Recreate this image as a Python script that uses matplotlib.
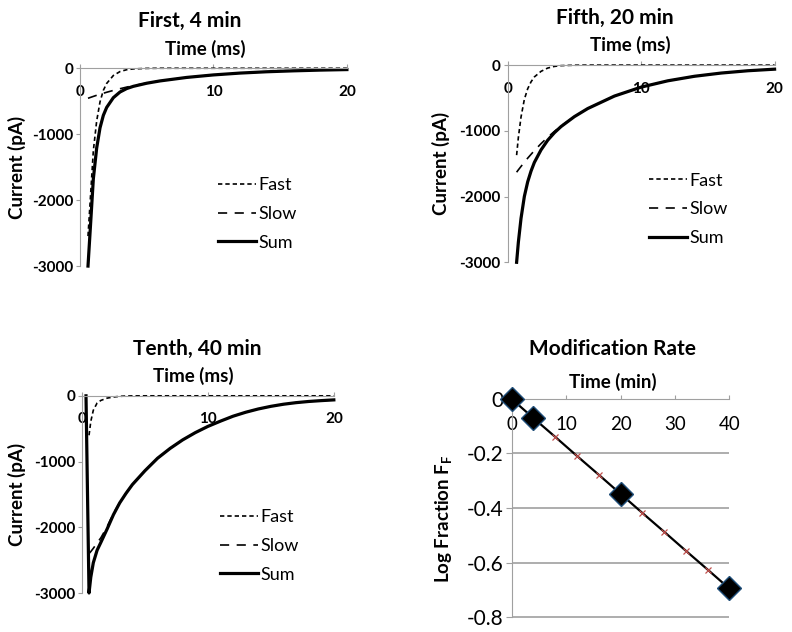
import matplotlib.pyplot as plt

plt.rcParams['font.family'] = ['Lato', 'DejaVu Sans']
plt.rcParams['axes.unicode_minus'] = False

# First, 4 min  (time in ms, current in pA)
t1 = [0.6, 0.8, 1.0, 1.25, 1.5, 1.75, 2.0, 2.5, 3.0, 3.5, 4, 5, 6, 8, 10, 12, 14, 16, 18, 20]
fast1 = [-2545, -1900, -1250, -800, -510, -335, -230, -110, -50, -22, -10, -2, 0, 0, 0, 0, 0, 0, 0, 0]
slow1 = [-455, -441, -427, -410, -394, -379, -364, -336, -310, -286, -264, -225, -192, -139, -101, -73, -53, -39, -28, -20]
sum1 = [-3000, -2341, -1677, -1210, -904, -714, -594, -446, -360, -308, -274, -227, -192, -139, -101, -73, -53, -39, -28, -20]

# Fifth, 20 min
t2 = [0.67, 0.8, 1.0, 1.25, 1.5, 1.75, 2.0, 2.5, 3.0, 3.5, 4, 5, 6, 8, 10, 12, 14, 16, 18, 20]
fast2 = [-1370, -1103, -790, -521, -360, -255, -180, -95, -45, -20, -8, -2, 0, 0, 0, 0, 0, 0, 0, 0]
slow2 = [-1630, -1594, -1542, -1477, -1416, -1358, -1301, -1195, -1098, -1009, -927, -782, -661, -471, -335, -239, -170, -121, -86, -62]
sum2 = [-3000, -2697, -2332, -1998, -1776, -1613, -1481, -1290, -1143, -1029, -935, -784, -661, -471, -335, -239, -170, -121, -86, -62]

# Tenth, 40 min
t3 = [0.56, 0.7, 0.9, 1.2, 1.5, 2.0, 2.5, 3.0, 3.5, 4, 5, 6, 7, 8, 9, 10, 11, 12, 13, 14, 15, 16, 17, 18, 19, 20]
fast3 = [-600, -390, -220, -110, -70, -35, -18, -8, -3, -1, 0, 0, 0, 0, 0, 0, 0, 0, 0, 0, 0, 0, 0, 0, 0, 0]
slow3 = [-2400, -2370, -2320, -2240, -2160, -1990, -1790, -1620, -1480, -1350, -1140, -950, -800, -670, -560, -465, -385, -310, -250, -200, -160, -128, -104, -86, -73, -62]
tsum3 = [0.32, 0.56, 0.7, 0.9, 1.2, 1.5, 2.0, 2.5, 3.0, 3.5, 4, 5, 6, 7, 8, 9, 10, 11, 12, 13, 14, 15, 16, 17, 18, 19, 20]
sum3 = [0, -3000, -2760, -2540, -2350, -2230, -2025, -1808, -1628, -1483, -1351, -1140, -950, -800, -670, -560, -465, -385, -310, -250, -200, -160, -128, -104, -86, -73, -62]

# Modification rate (time in min)
mod_t = [0, 4, 20, 40]
mod_log = [0, -0.07, -0.35, -0.695]
fit_t = [0, 4, 8, 12, 16, 20, 24, 28, 32, 36, 40]
fit_log = [0, -0.070, -0.139, -0.209, -0.278, -0.348, -0.418, -0.487, -0.557, -0.626, -0.696]

trace_yticks = [0, -1000, -2000, -3000]
trace_xticks = [0, 10, 20]
mod_yticks = [0, -0.2, -0.4, -0.6, -0.8]
mod_ylabels = ['0', '-0.2', '-0.4', '-0.6', '-0.8']
mod_xticks = [0, 10, 20, 30, 40]

GRAY = '#a0a0a0'

fig = plt.figure(figsize=(7.92, 6.32), dpi=100)


def trace_panel(rect, title, t, fast, slow, tsum, total, title_x, time_x, ylab_x, leg_x, leg_y):
    ax = fig.add_axes(rect)
    ax.plot(t, fast, color='black', lw=1.2, dashes=(2.6, 1.8), label='Fast', clip_on=False)
    ax.plot(t, slow, color='black', lw=1.2, dashes=(5.5, 4.5), label='Slow', clip_on=False)
    ax.plot(tsum, total, color='black', lw=2.3, label='Sum', clip_on=False)
    ax.set_xlim(0, 20)
    ax.set_ylim(-3000, 0)
    ax.set_xticks(trace_xticks)
    ax.set_yticks(trace_yticks)
    ax.spines['right'].set_visible(False)
    ax.spines['top'].set_visible(False)
    ax.spines['bottom'].set_position(('data', 0))
    ax.spines['bottom'].set_color(GRAY)
    ax.spines['left'].set_color(GRAY)
    ax.tick_params(axis='x', direction='in', length=3, color=GRAY, pad=12)
    ax.tick_params(axis='y', direction='out', length=3, color=GRAY, pad=2)
    for lab in ax.get_xticklabels() + ax.get_yticklabels():
        lab.set_fontweight('bold')
        lab.set_fontsize(11)
    ax.text(title_x, 1.24, title, transform=ax.transAxes, ha='center', va='center',
            fontsize=15, fontweight='bold')
    ax.text(time_x, 1.10, 'Time (ms)', transform=ax.transAxes, ha='center', va='center',
            fontsize=13.5, fontweight='bold')
    ax.text(ylab_x, 0.5, 'Current (pA)', transform=ax.transAxes, ha='center', va='center',
            rotation=90, fontsize=13.5, fontweight='bold')
    ax.legend(loc='center left', bbox_to_anchor=(leg_x, leg_y), frameon=False, fontsize=13,
              handlelength=2.1, handletextpad=0.15, labelspacing=0.7, borderpad=0, borderaxespad=0)
    return ax


trace_panel([0.101, 0.579, 0.337, 0.313], 'First, 4 min', t1, fast1, slow1, t1, sum1,
            0.412, 0.468, -0.235, 0.517, 0.263)
trace_panel([0.641, 0.585, 0.337, 0.312], 'Fifth, 20 min', t2, fast2, slow2, t2, sum2,
            0.403, 0.46, -0.25, 0.528, 0.269)
trace_panel([0.1035, 0.0617, 0.318, 0.312], 'Tenth, 40 min', t3, fast3, slow3, tsum3, sum3,
            0.458, 0.444, -0.257, 0.548, 0.239)

ax4 = fig.add_axes([0.646, 0.0237, 0.275, 0.345])
ax4.plot(fit_t, fit_log, color='black', lw=1.6, marker='x', ms=5, mec='#c0504d', mew=0.9)
ax4.plot(mod_t, mod_log, ls='none', marker='D', ms=12, mfc='black', mec='#1f4e79', mew=1,
         clip_on=False, zorder=4)
ax4.set_xlim(0, 40)
ax4.set_ylim(-0.8, 0)
ax4.set_xticks(mod_xticks)
ax4.set_yticks(mod_yticks)
ax4.set_yticklabels(mod_ylabels)
ax4.hlines(mod_yticks[1:], 0, 40, color=GRAY, lw=1.2, zorder=1, clip_on=False)
ax4.spines['right'].set_visible(False)
ax4.spines['top'].set_visible(False)
ax4.spines['bottom'].set_position(('data', 0))
ax4.spines['bottom'].set_color(GRAY)
ax4.spines['left'].set_color(GRAY)
ax4.tick_params(axis='x', direction='in', length=3, color=GRAY, pad=12, labelsize=13.5)
ax4.tick_params(axis='y', direction='out', length=4, color=GRAY, pad=2, labelsize=15)
ax4.text(0.463, 1.229, 'Modification Rate', transform=ax4.transAxes, ha='center', va='center',
         fontsize=15, fontweight='bold')
ax4.text(0.463, 1.078, 'Time (min)', transform=ax4.transAxes, ha='center', va='center',
         fontsize=13.5, fontweight='bold')
ax4.text(-0.31, 0.45, r'Log Fraction F$_\mathregular{F}$', transform=ax4.transAxes,
         ha='center', va='center', rotation=90, fontsize=13.5, fontweight='bold')

fig.savefig('out.png', dpi=100)
